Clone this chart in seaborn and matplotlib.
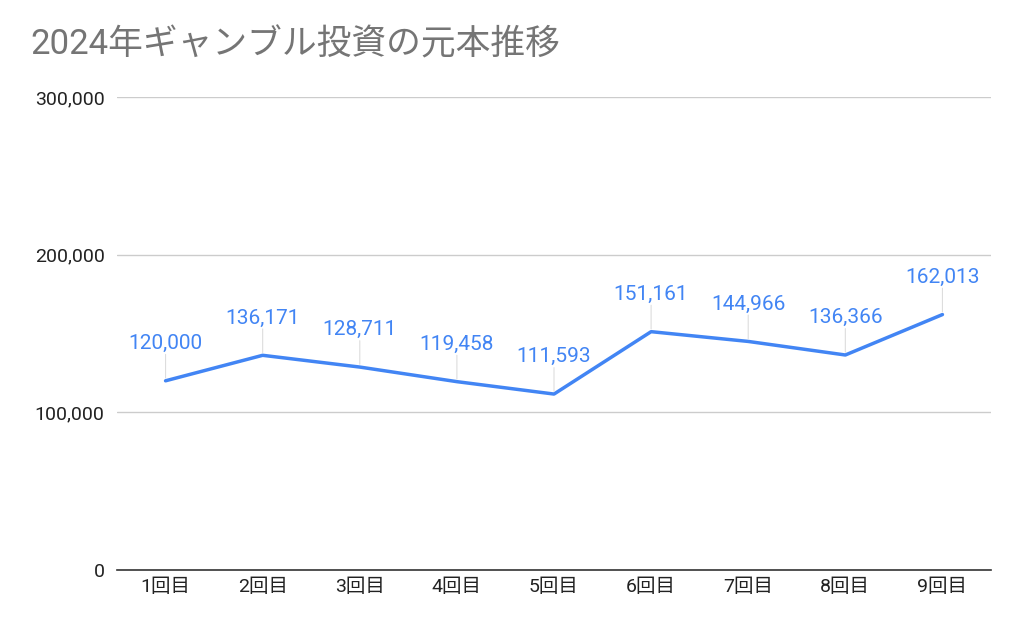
import matplotlib
matplotlib.use("Agg")
import matplotlib.pyplot as plt
import seaborn as sns
import pandas as pd

categories = ["1回目", "2回目", "3回目", "4回目", "5回目", "6回目", "7回目", "8回目", "9回目"]
values = [120000, 136171, 128711, 119458, 111593, 151161, 144966, 136366, 162013]
yticks = [0, 100000, 200000, 300000]
title = "2024年ギャンブル投資の元本推移"

sns.set_theme(style="white")
plt.rcParams['font.family'] = ['Roboto', 'Noto Sans CJK JP', 'DejaVu Sans']

df = pd.DataFrame({"cat": categories, "val": values})

fig = plt.figure(figsize=(10.24, 6.33), dpi=100)
ax = fig.add_axes([117/1024, 1-570/633, (991-117)/1024, (570-97)/633])

sns.lineplot(data=df, x="cat", y="val", ax=ax, color="#4285F4", linewidth=2.5, sort=False)

ax.set_xlim(-0.5, len(categories) - 0.5)
ax.set_ylim(0, 300000)
ax.set_yticks(yticks)
ax.set_yticklabels([f"{v:,}" for v in yticks])
ax.set_xlabel("")
ax.set_ylabel("")

for s in ["top", "right", "left"]:
    ax.spines[s].set_visible(False)
ax.spines["bottom"].set_color("#333333")
ax.spines["bottom"].set_linewidth(1.2)
ax.grid(axis="y", color="#cccccc", linewidth=1)
ax.set_axisbelow(True)
ax.tick_params(axis="both", length=0, labelsize=14, colors="#222222")
ax.tick_params(axis="x", pad=6)
ax.tick_params(axis="y", pad=9)

for i, v in enumerate(values):
    ax.annotate("", xy=(i, v), xytext=(0, 19), textcoords="offset points",
                xycoords="data",
                arrowprops=dict(arrowstyle="-", color="#dddddd", lw=0.8, shrinkA=0, shrinkB=2))
    ax.annotate(f"{v:,}", xy=(i, v), xytext=(0, 20), textcoords="offset points",
                ha="center", va="bottom", color="#4285F4", fontsize=15)

fig.text(30/1024, 1-45/633, title, fontsize=25, color="#757575", ha="left", va="center")

fig.savefig("out.png", dpi=100, facecolor="white")
